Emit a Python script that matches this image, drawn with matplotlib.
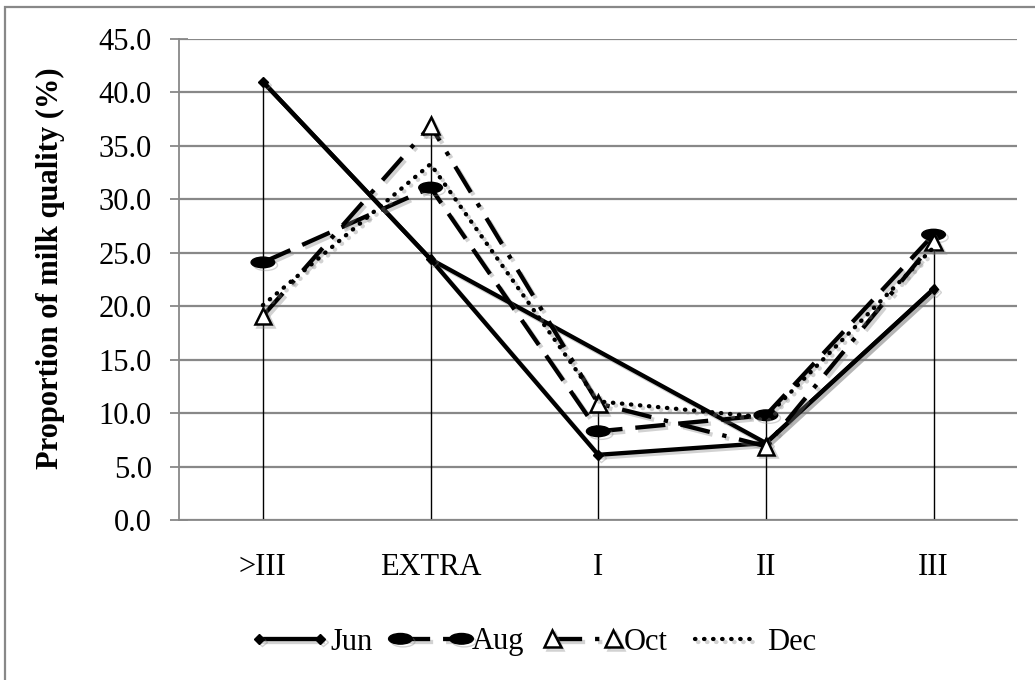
import numpy as np
import matplotlib
matplotlib.use("Agg")
import matplotlib.pyplot as plt
import matplotlib.path as mpath
import matplotlib.patheffects as pe
from matplotlib.patches import Rectangle

categories = [">III", "EXTRA", "I", "II", "III"]
jun = [41.0, 24.4, 6.1, 7.2, 21.6]
# second solid trace in the original, with no point at I
jun_gap = [41.0, 24.4, np.nan, 7.2, 21.6]
aug = [24.1, 31.1, 8.3, 9.8, 26.7]
octo = [19.1, 36.9, 10.9, 6.9, 26.0]
dec = [20.1, 33.3, 11.1, 9.6, 25.5]
yticks = [0, 5, 10, 15, 20, 25, 30, 35, 40, 45]

plt.rcParams['font.family'] = ['Liberation Serif', 'DejaVu Serif']

fig = plt.figure(figsize=(10.35, 6.8), dpi=100)
ax = fig.add_axes([0.173, 0.2353, 0.810, 0.7073])

x = np.arange(len(categories))

# ellipse marker for Aug
circ = mpath.Path.unit_circle()
ell = mpath.Path(circ.vertices * np.array([1.0, 0.45]), circ.codes)

shadow = [pe.SimpleLineShadow(offset=(2, -2), alpha=0.35, shadow_color='gray'), pe.Normal()]

# drop lines
tops = np.nanmax(np.array([jun, aug, octo, dec]), axis=0)
ax.vlines(x, 0, tops, color='black', lw=1.0, zorder=2)

lw = 3.1
m = ~np.isnan(np.array(jun_gap))
ax.plot(x[m], np.array(jun_gap)[m], color='black', lw=lw, zorder=3, path_effects=shadow)
ax.plot(x, jun, color='black', lw=lw, marker='D', ms=5, label='Jun', zorder=3,
        path_effects=shadow)
ax.plot(x, aug, color='black', lw=lw, dashes=(7, 3), marker=ell, ms=17,
        label='Aug', zorder=4, path_effects=shadow)
ax.plot(x, octo, color='black', lw=lw, dashes=(7, 3, 1, 3), marker='^', ms=12,
        mfc='white', mec='black', mew=1.8, label='Oct', zorder=4, path_effects=shadow)
ax.plot(x, dec, color='black', lw=lw, linestyle=(0, (0.1, 2)), dash_capstyle='round',
        label='Dec', zorder=5, path_effects=shadow)

ax.set_xlim(-0.5, len(categories) - 0.5)
ax.set_ylim(0, 45)
ax.set_yticks(yticks)
ax.set_yticklabels(['%.1f' % v for v in yticks], fontsize=22)
ax.set_xticks(x)
ax.set_xticklabels(categories, fontsize=22)
ax.tick_params(axis='x', length=0, pad=24)
ax.tick_params(axis='y', direction='inout', length=13, color='#888888', width=1.3, pad=13)
ax.yaxis.grid(True, color='#888888', lw=1.6)
ax.set_axisbelow(True)
for s in ['top', 'right']:
    ax.spines[s].set_visible(False)
ax.spines['left'].set_color('#888888')
ax.spines['left'].set_linewidth(1.3)
ax.spines['bottom'].set_color('#888888')
ax.spines['bottom'].set_linewidth(1.3)
ax.set_ylabel('Proportion of milk quality (%)', fontsize=22, fontweight='bold')
ax.yaxis.set_label_coords(65 / 1035, 1 - 268 / 680, transform=fig.transFigure)

ax.legend(loc='center', bbox_to_anchor=(533 / 1035, 1 - 642 / 680), bbox_transform=fig.transFigure,
          ncol=4, frameon=False, fontsize=22, handlelength=2.6, columnspacing=0.6,
          handletextpad=0.05, numpoints=2)

fig.patches.append(Rectangle((5 / 1035, -0.1), 1.2, 1.1 - 7 / 680, transform=fig.transFigure,
                             fill=False, edgecolor='#888888', lw=1.6))

fig.savefig('out.png', dpi=100)
